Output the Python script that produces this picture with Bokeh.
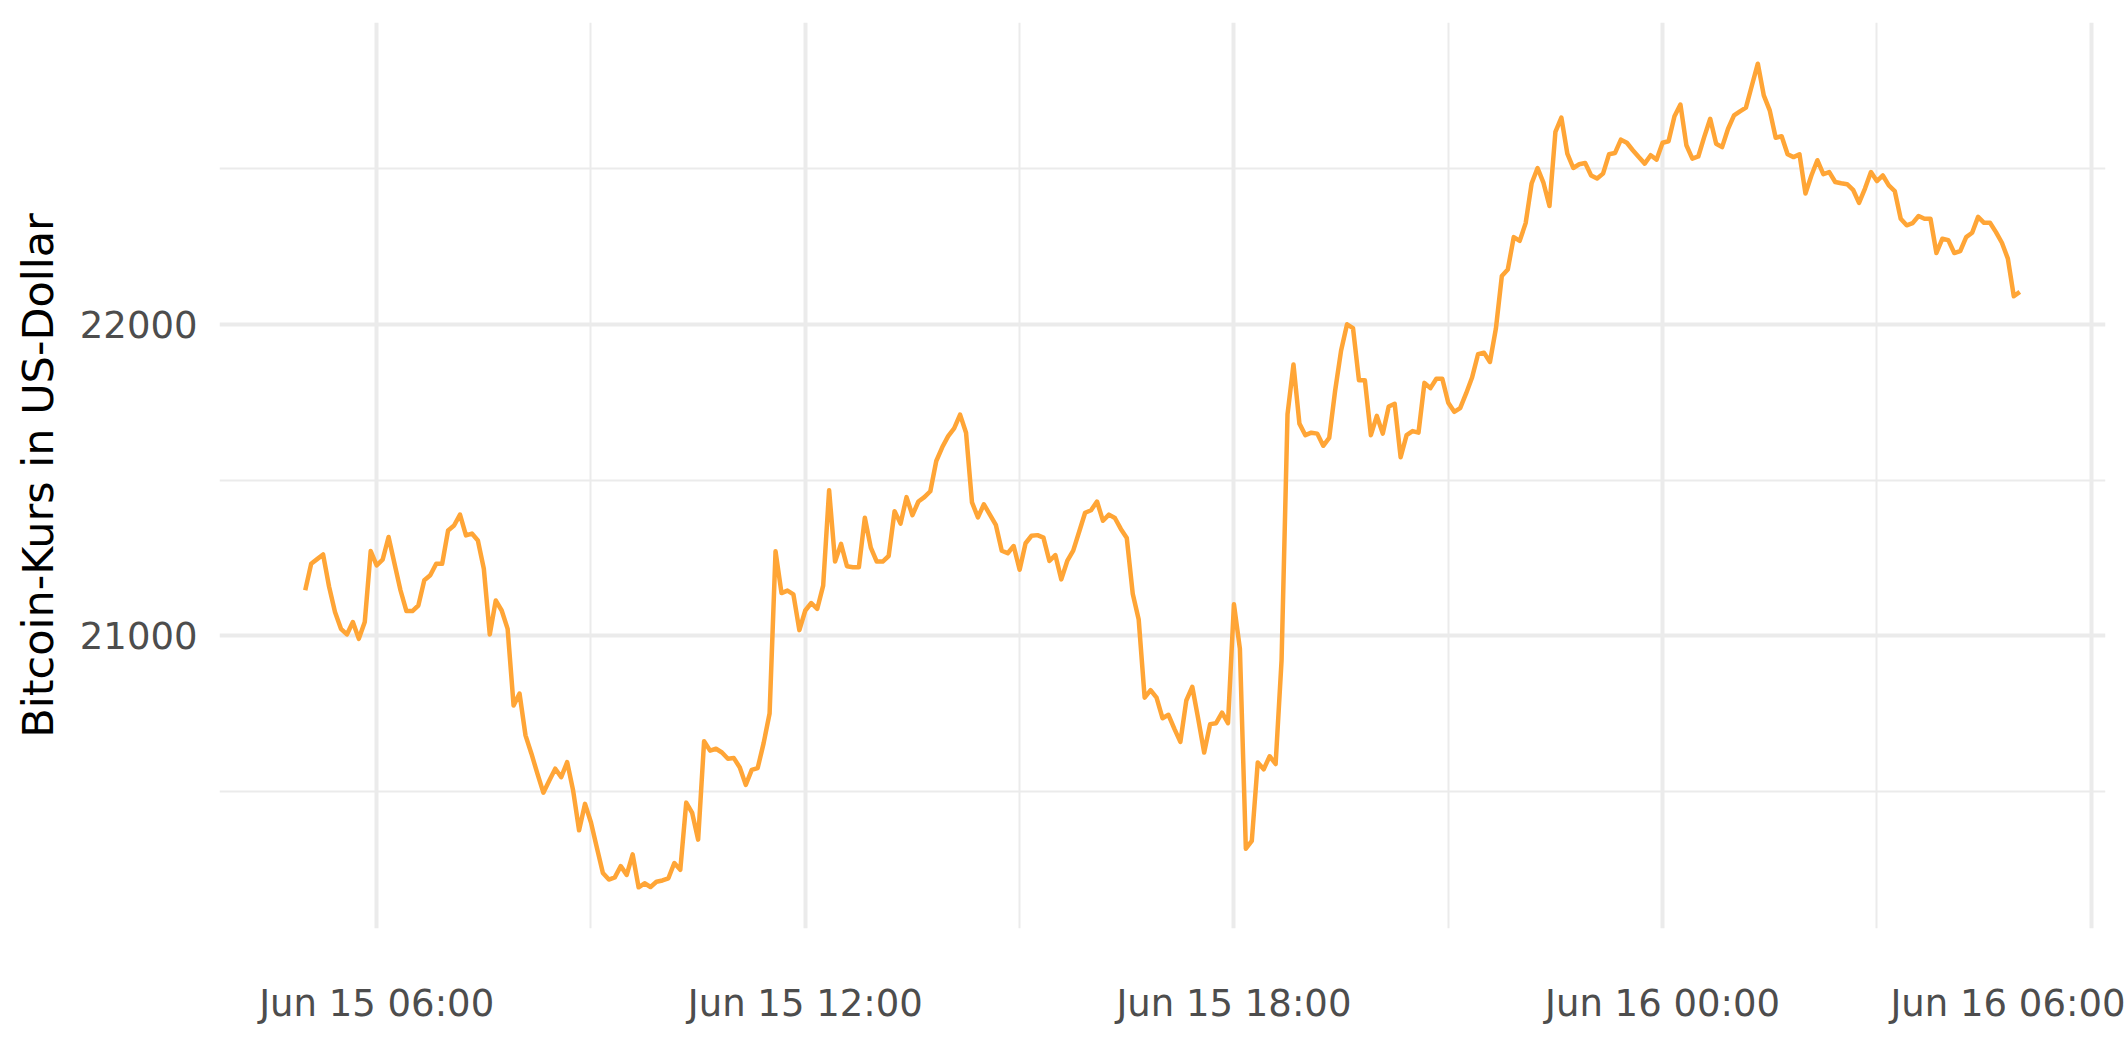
import numpy as np
import pandas as pd
from bokeh.plotting import figure
from bokeh.models import Range1d, FixedTicker, DatetimeTickFormatter, ColumnDataSource
from bokeh.embed import file_html
from bokeh.resources import INLINE

# ---- data (5-minute Bitcoin prices, Jun 15 05:00 -> Jun 16 05:00) ----
start_time = "2022-06-15 05:00"
interval = "5min"
price_usd = [
    21146, 21231, 21246, 21261, 21158, 21076, 21022, 21004, 21044, 20990, 21044, 21272,
    21226, 21244, 21317, 21231, 21146, 21079, 21079, 21097, 21178, 21194, 21231, 21231,
    21338, 21354, 21389, 21322, 21328, 21306, 21215, 21004, 21113, 21081, 21022, 20776,
    20814, 20680, 20621, 20557, 20496, 20535, 20573, 20546, 20594, 20503, 20375, 20460,
    20400, 20318, 20238, 20217, 20224, 20260, 20232, 20298, 20192, 20205, 20193, 20210,
    20214, 20221, 20270, 20248, 20464, 20431, 20345, 20661, 20631, 20637, 20625, 20605,
    20607, 20577, 20521, 20569, 20575, 20655, 20750, 21271, 21137, 21145, 21133, 21018,
    21081, 21105, 21086, 21161, 21467, 21238, 21295, 21223, 21220, 21220, 21379, 21283,
    21238, 21238, 21256, 21400, 21360, 21445, 21387, 21431, 21445, 21464, 21561, 21605,
    21641, 21666, 21710, 21652, 21428, 21380, 21422, 21389, 21356, 21273, 21265, 21288,
    21212, 21297, 21321, 21323, 21315, 21240, 21259, 21181, 21240, 21273, 21334, 21395,
    21403, 21431, 21369, 21389, 21378, 21343, 21314, 21135, 21052, 20801, 20825, 20801,
    20735, 20746, 20701, 20659, 20792, 20836, 20733, 20625, 20716, 20719, 20753, 20719,
    21101, 20958, 20316, 20341, 20593, 20571, 20613, 20588, 20921, 21711, 21871, 21681,
    21644, 21652, 21649, 21610, 21635, 21787, 21916, 22000, 21988, 21820, 21820, 21644,
    21706, 21649, 21736, 21745, 21573, 21644, 21657, 21652, 21812, 21795, 21825, 21825,
    21748, 21719, 21731, 21778, 21829, 21904, 21909, 21879, 21986, 22155, 22176, 22280,
    22268, 22325, 22452, 22502, 22454, 22380, 22618, 22664, 22548, 22502, 22514, 22518,
    22478, 22468, 22484, 22546, 22550, 22593, 22583, 22559, 22537, 22516, 22543, 22529,
    22583, 22588, 22668, 22706, 22575, 22532, 22539, 22602, 22660, 22580, 22569, 22628,
    22671, 22684, 22696, 22767, 22837, 22735, 22687, 22599, 22604, 22546, 22537, 22546,
    22420, 22478, 22527, 22482, 22489, 22457, 22453, 22450, 22432, 22390, 22436, 22489,
    22460, 22478, 22446, 22428, 22339, 22318, 22325, 22348, 22339, 22339, 22229, 22275,
    22270, 22229, 22235, 22280, 22294, 22345, 22326, 22326, 22296, 22262, 22211, 22090,
    22104,
]

x_major_ticks = ["2022-06-15 06:00", "2022-06-15 12:00", "2022-06-15 18:00",
                 "2022-06-16 00:00", "2022-06-16 06:00"]
x_minor_ticks = ["2022-06-15 03:00", "2022-06-15 09:00", "2022-06-15 15:00",
                 "2022-06-15 21:00", "2022-06-16 03:00"]
y_major_ticks = [21000, 22000]
y_minor_ticks = [20500, 21500, 22500]
y_label = "Bitcoin-Kurs in US-Dollar"


def to_ms(ts):
    return (pd.DatetimeIndex(ts).values.astype("datetime64[ms]").astype(np.int64)).astype(float)


times_ms = to_ms(pd.date_range(start_time, periods=len(price_usd), freq=interval))
src = ColumnDataSource(dict(t=times_ms, price=price_usd))
major_ms = list(to_ms(x_major_ticks))
minor_ms = list(to_ms(x_minor_ticks))

xmin, xmax = times_ms.min(), times_ms.max()
xpad = 0.05 * (xmax - xmin)
ymin, ymax = min(price_usd), max(price_usd)
ypad = 0.05 * (ymax - ymin)

W, H = 2125, 1062
p = figure(width=W, height=H, x_axis_type="datetime",
           output_backend="svg", toolbar_location=None,
           x_range=Range1d(xmin - xpad, xmax + xpad),
           y_range=Range1d(ymin - ypad, ymax + ypad))
p.min_border_left = 219
p.min_border_right = 20
p.min_border_top = 22
p.min_border_bottom = 134
p.outline_line_color = None
p.background_fill_color = "white"
p.border_fill_color = "white"

p.xaxis.ticker = FixedTicker(ticks=major_ms, minor_ticks=minor_ms)
p.yaxis.ticker = FixedTicker(ticks=y_major_ticks, minor_ticks=y_minor_ticks)
fmt = "%b %d %H:%M"
p.xaxis.formatter = DatetimeTickFormatter(
    milliseconds=fmt, seconds=fmt, minsec=fmt, minutes=fmt, hourmin=fmt,
    hours=fmt, days=fmt, months=fmt, years=fmt, strip_leading_zeros=False)

TICK_FONT = "37px"
TICK_COLOR = "#4D4D4D"
for ax in (p.xaxis, p.yaxis):
    ax.axis_line_color = None
    ax.major_tick_line_color = None
    ax.minor_tick_line_color = None
    ax.major_tick_out = 0
    ax.major_tick_in = 0
    ax.minor_tick_out = 0
    ax.minor_tick_in = 0
    ax.major_label_text_font = "DejaVu Sans"
    ax.major_label_text_font_size = TICK_FONT
    ax.major_label_text_color = TICK_COLOR

p.xaxis.major_label_standoff = 53
p.yaxis.major_label_standoff = 22
p.yaxis.axis_label = y_label
p.yaxis.axis_label_text_font = "DejaVu Sans"
p.yaxis.axis_label_text_font_size = "43px"
p.yaxis.axis_label_text_font_style = "normal"
p.yaxis.axis_label_text_color = "black"
p.yaxis.axis_label_standoff = 14

for g in (p.xgrid, p.ygrid):
    g.grid_line_color = "#EBEBEB"
    g.grid_line_width = 4
    g.minor_grid_line_color = "#EBEBEB"
    g.minor_grid_line_width = 2

p.line(x="t", y="price", source=src, line_color="#FFA536", line_width=4.5, line_join="round")

open("out.html", "w").write(file_html(p, INLINE))
